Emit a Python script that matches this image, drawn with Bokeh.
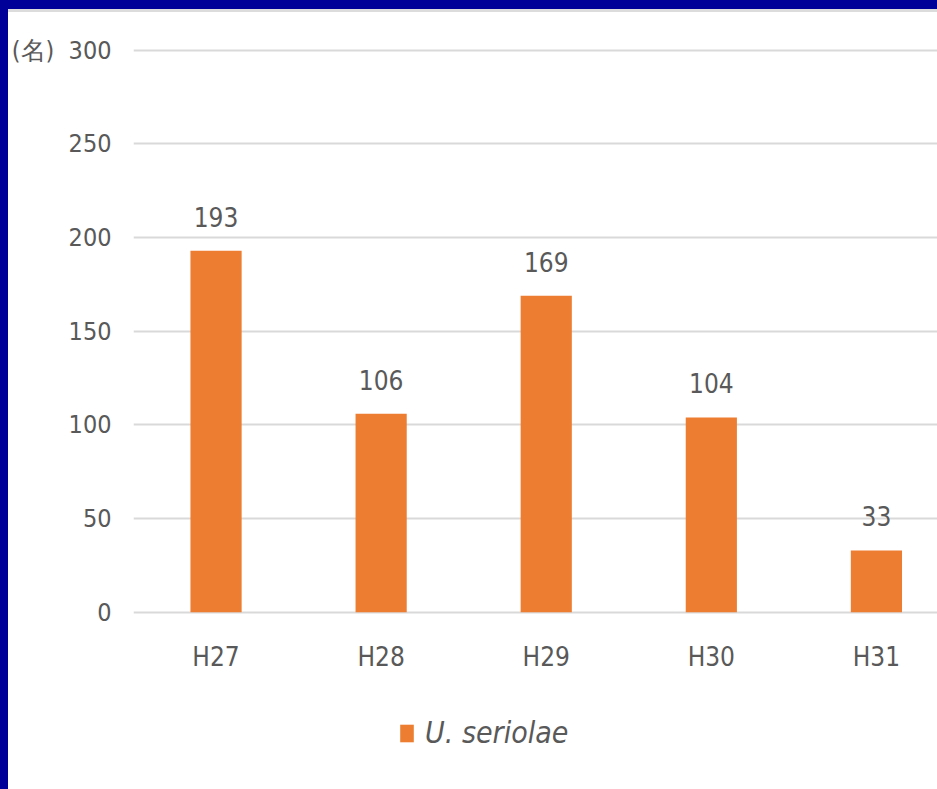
from bokeh.plotting import figure
from bokeh.models import Range1d, FixedTicker, Legend, LegendItem
from bokeh.core.properties import value
from bokeh.embed import file_html
from bokeh.resources import INLINE

categories = ["H27", "H28", "H29", "H30", "H31"]
counts = [193, 106, 169, 104, 33]
y_ticks = [0, 50, 100, 150, 200, 250, 300]
series_name = "U. seriolae"
unit_label = "(名)"

BAR = "#ED7D31"
GRID = "#D9D9D9"
TXT = "#595959"
FONT = "DejaVu Sans Condensed, Roboto, sans-serif"

xs = [i + 0.5 for i in range(len(categories))]

p = figure(width=929, height=777, output_backend="svg", toolbar_location=None,
           x_range=Range1d(0, 4.87), y_range=Range1d(-89.8, 310),
           min_border_left=125, min_border_right=0, min_border_top=19, min_border_bottom=9)
p.margin = (12, 0, 0, 8)
p.styles = {"background-color": "white"}
p.outline_line_color = None
p.background_fill_color = "white"
p.border_fill_color = "white"

r = p.vbar(x=xs, top=counts, width=0.31, color=BAR, line_color=None)

p.text(x=xs, y=counts, text=[str(c) for c in counts], text_align="center",
       text_baseline="middle", y_offset=-34, text_font=value(FONT),
       text_font_size="26px", text_color=TXT)

# category labels under the baseline
p.text(x=xs, y=[0] * len(xs), text=categories, text_align="center",
       text_baseline="middle", y_offset=45, text_font=value(FONT),
       text_font_size="26px", text_color=TXT)

p.xaxis.visible = False
p.xgrid.visible = False
p.ygrid.ticker = FixedTicker(ticks=y_ticks)
p.ygrid.grid_line_color = GRID
p.ygrid.grid_line_width = 2

p.yaxis.ticker = FixedTicker(ticks=y_ticks)
p.yaxis.major_label_overrides = {y_ticks[-1]: unit_label + "\u00a0\u00a0" + str(y_ticks[-1])}
ax = p.yaxis[0]
ax.axis_line_color = None
ax.major_tick_line_color = None
ax.minor_tick_line_color = None
ax.major_tick_in = 0
ax.major_tick_out = 0
ax.major_label_text_font = FONT
ax.major_label_text_font_size = "25px"
ax.major_label_text_color = TXT
ax.major_label_standoff = 22

legend = Legend(items=[LegendItem(label=series_name, renderers=[r])],
                location=(265, 30), orientation="horizontal",
                label_text_font=FONT, label_text_font_style="italic",
                label_text_font_size="30px", label_text_color=TXT,
                glyph_width=17, glyph_height=22, label_standoff=10,
                padding=0, margin=0, border_line_color=None, background_fill_alpha=0)
p.add_layout(legend, "center")

css = ("<style>html,body{margin:0;background:"
       "linear-gradient(to right,#000099 0 8px,transparent 8px),"
       "linear-gradient(#000099 0 9px,#DCDCDC 9px 12px,#000099 12px) !important;}</style>")
html = file_html(p, INLINE)
html = html.replace("</head>", css + "</head>", 1)
open("out.html", "w").write(html)
